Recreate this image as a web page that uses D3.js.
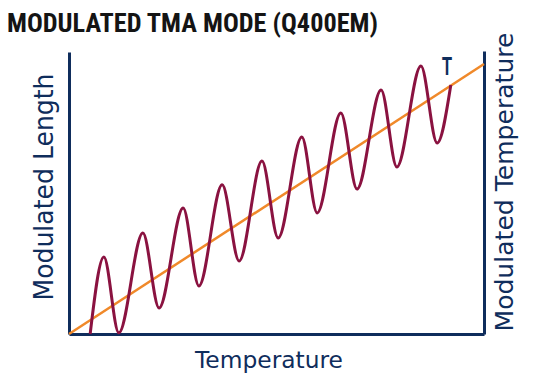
<!DOCTYPE html>
<html><head><meta charset="utf-8">
<script src="https://cdn.jsdelivr.net/npm/d3@7"></script>
<style>
html,body{margin:0;padding:0;background:#fff;}
svg{display:block;}
</style></head>
<body>
<script>
// Data (Temperature units 0-100, response units 0-100)
const titleText = "MODULATED TMA MODE (Q400EM)";
const xLabel = "Temperature";
const yLabelLeft = "Modulated Length";
const yLabelRight = "Modulated Temperature";
const waveLabel = "T";
// Modulated length trace: start, alternating peaks and troughs, end
const waveX = [5.1, 8.4, 12.0, 17.8, 21.7, 27.5, 31.3, 36.9, 41.0, 46.5, 50.4, 56.1, 59.8, 65.5, 69.4, 75.2, 79.0, 84.8, 88.7, 92.0];
const waveY = [0.0, 27.2, 0.4, 35.7, 9.2, 44.5, 17.0, 52.7, 25.8, 61.1, 33.9, 69.6, 42.8, 78.1, 51.2, 86.2, 59.0, 94.7, 67.5, 88.0];
// Underlying temperature ramp
const rampX = [0, 100];
const rampY = [0, 95.4];

const W = 547, H = 381;
const svg = d3.select("body").append("svg").attr("width", W).attr("height", H);
const navy = "#0f2d5c";

const x = d3.scaleLinear().domain([0, 100]).range([69, 484]);
const y = d3.scaleLinear().domain([0, 100]).range([334, 51]);

// Title
svg.append("text").attr("x", 7).attr("y", 32)
  .attr("font-family", "'Liberation Sans Narrow','Roboto Condensed','Liberation Sans',Arial,sans-serif")
  .attr("font-weight", "bold").attr("font-size", 25).attr("fill", "#141414")
  .attr("textLength", 371).attr("lengthAdjust", "spacingAndGlyphs")
  .text(titleText);

// Axes (no ticks)
const g = svg.append("g");
g.append("g").attr("transform", `translate(0,${y(0)})`)
  .call(d3.axisBottom(x).tickValues([]).tickSizeOuter(0))
  .call(s => s.select(".domain").attr("stroke", navy).attr("stroke-width", 3));
g.append("g").attr("transform", `translate(${x(0)},0)`)
  .call(d3.axisLeft(y.copy().range([334, 52])).tickValues([]).tickSizeOuter(0))
  .call(s => s.select(".domain").attr("stroke", navy).attr("stroke-width", 3));
g.append("g").attr("transform", `translate(${x(100)},0)`)
  .call(d3.axisRight(y).tickValues([]).tickSizeOuter(0))
  .call(s => s.select(".domain").attr("stroke", navy).attr("stroke-width", 3));

// Ramp line
const ramp = rampX.map((v, i) => [v, rampY[i]]);
svg.append("path").datum(ramp)
  .attr("d", d3.line().x(d => x(d[0])).y(d => y(d[1])))
  .attr("fill", "none").attr("stroke", "#f0892a").attr("stroke-width", 2.5);

// Wave
const wave = waveX.map((v, i) => [v, waveY[i]]);
svg.append("path").datum(wave)
  .attr("d", d3.line().x(d => x(d[0])).y(d => y(d[1])).curve(d3.curveMonotoneX))
  .attr("fill", "none").attr("stroke", "#8a1240").attr("stroke-width", 3);

// Wave label
svg.append("text").attr("x", 447).attr("y", 75).attr("text-anchor", "middle")
  .attr("font-family", "'Liberation Sans Narrow','Liberation Sans',Arial,sans-serif")
  .attr("font-weight", "bold")
  .attr("font-size", 26).attr("fill", navy).attr("textLength", 10).attr("lengthAdjust", "spacingAndGlyphs")
  .text(waveLabel);

const labFont = "'URW Gothic','Century Gothic','DejaVu Sans',sans-serif";
// X label
svg.append("text").attr("x", 269).attr("y", 368).attr("text-anchor", "middle")
  .attr("font-family", labFont).attr("font-size", 23).attr("fill", navy)
  .attr("textLength", 148).attr("lengthAdjust", "spacingAndGlyphs")
  .text(xLabel);
// Left label
svg.append("text").attr("transform", "translate(53,187) rotate(-90)").attr("text-anchor", "middle")
  .attr("font-family", labFont).attr("font-size", 26).attr("fill", navy)
  .attr("textLength", 227).attr("lengthAdjust", "spacingAndGlyphs")
  .text(yLabelLeft);
// Right label
svg.append("text").attr("transform", "translate(513,182) rotate(-90)").attr("text-anchor", "middle")
  .attr("font-family", labFont).attr("font-size", 24).attr("fill", navy)
  .attr("textLength", 299).attr("lengthAdjust", "spacingAndGlyphs")
  .text(yLabelRight);
</script>
</body></html>
